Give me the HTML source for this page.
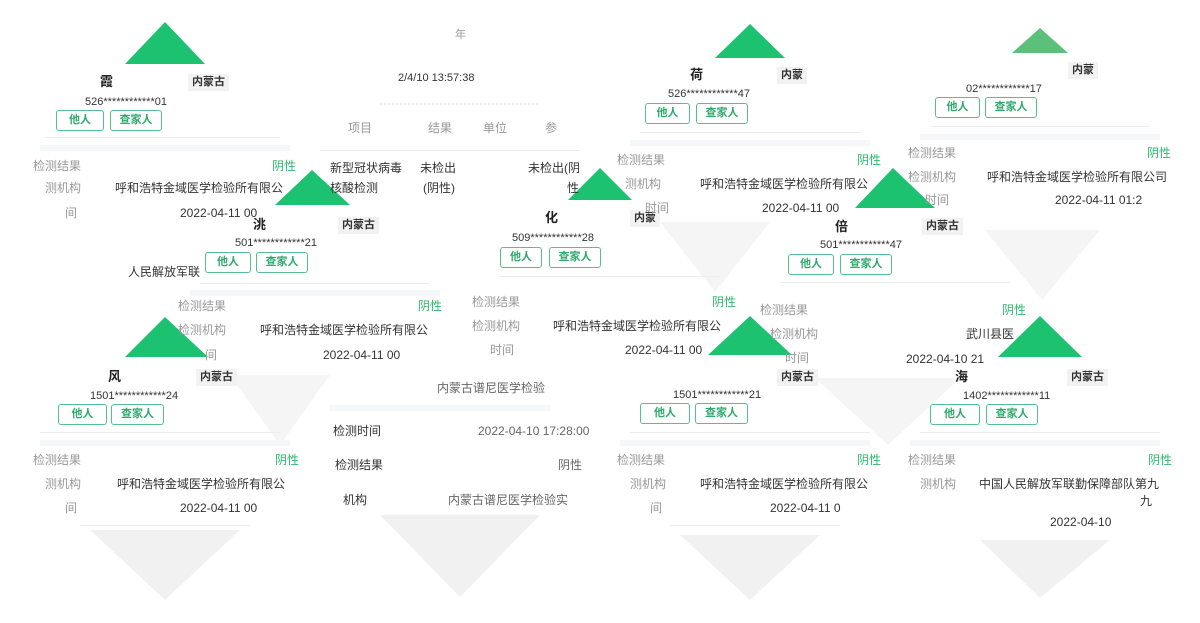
<!DOCTYPE html>
<html><head><meta charset="utf-8"><style>
body{margin:0;width:1200px;height:623px;background:#fff;position:relative;overflow:hidden;font-family:"Liberation Sans","Noto Sans CJK SC",sans-serif;}
.t{position:absolute;font-size:12px;color:#333;white-space:nowrap;line-height:16px;}
.l{color:#999;}
.g{color:#2fb86f;}
.b{font-weight:bold;font-size:13px;color:#222;}
.s{font-size:11px;color:#333;}
.bd{position:absolute;background:#f2f2f2;font-size:11px;font-weight:bold;color:#333;padding:0 4px;line-height:17px;height:17px;}
.btn{position:absolute;border:1px solid #55c08e;border-radius:3px;color:#2fa96c;font-size:11px;font-weight:bold;text-align:center;height:19px;line-height:19px;}
.ln{position:absolute;height:1px;background:#ededed;}
.band{position:absolute;height:6px;background:#f6f7f8;}
svg{position:absolute;left:0;top:0;}
</style></head><body>
<svg width="1200" height="623">
<g fill="#f1f1f1">
<polygon points="90,530 240,530 165,600"/>
<polygon points="380,515 540,515 460,597"/>
<polygon points="680,535 820,535 750,600"/>
<polygon points="980,540 1110,540 1040,598"/>
<polygon points="230,375 330,375 280,445" fill="#f5f5f5"/>
<polygon points="660,222 770,222 715,292" fill="#f5f5f5"/>
<polygon points="815,378 960,378 888,445" fill="#f5f5f5"/>
<polygon points="985,230 1100,230 1042,300" fill="#f5f5f5"/>
</g>
<g fill="#1dc271">
<polygon points="165,22 125,64 205,64"/>
<polygon points="312,170 275,205 350,205"/>
<polygon points="600,168 568,200 632,200"/>
<polygon points="750,24 715,58 785,58"/>
<polygon points="1040,28 1012,53 1068,53" fill="#5cbf7a"/>
<polygon points="893,168 855,208 935,208"/>
<polygon points="165,317 125,357 208,357"/>
<polygon points="750,316 708,355 792,355"/>
<polygon points="1040,316 998,357 1082,357"/>
</g>
<line x1="380" y1="104" x2="540" y2="104" stroke="#ddd" stroke-dasharray="2,2"/>
</svg>

<!-- lines / bands -->
<div class="ln" style="left:45px;top:137px;width:235px"></div>
<div class="band" style="left:40px;top:145px;width:250px"></div>
<div class="ln" style="left:320px;top:150px;width:260px"></div>
<div class="ln" style="left:640px;top:132px;width:220px"></div>
<div class="band" style="left:630px;top:140px;width:240px"></div>
<div class="ln" style="left:930px;top:126px;width:220px"></div>
<div class="band" style="left:920px;top:134px;width:240px"></div>
<div class="ln" style="left:200px;top:283px;width:230px"></div>
<div class="band" style="left:190px;top:290px;width:250px"></div>
<div class="ln" style="left:500px;top:276px;width:220px"></div>
<div class="ln" style="left:780px;top:282px;width:230px"></div>
<div class="ln" style="left:40px;top:432px;width:240px"></div>
<div class="band" style="left:40px;top:440px;width:250px"></div>
<div class="band" style="left:330px;top:405px;width:220px"></div>
<div class="ln" style="left:630px;top:432px;width:240px"></div>
<div class="band" style="left:620px;top:440px;width:250px"></div>
<div class="ln" style="left:920px;top:432px;width:240px"></div>
<div class="band" style="left:910px;top:440px;width:250px"></div>
<div class="ln" style="left:80px;top:525px;width:170px"></div>
<div class="ln" style="left:670px;top:525px;width:170px"></div>

<!-- Card A -->
<div class="t b" style="left:100px;top:74px">霞</div>
<div class="bd" style="left:188px;top:74px">内蒙古</div>
<div class="t s" style="left:85px;top:94px">526************01</div>
<div class="btn" style="left:56px;top:110px;width:46px">他人</div>
<div class="btn" style="left:110px;top:110px;width:50px">查家人</div>
<div class="t l" style="left:33px;top:158px">检测结果</div>
<div class="t g" style="left:272px;top:158px">阴性</div>
<div class="t l" style="left:45px;top:180px">测机构</div>
<div class="t" style="left:115px;top:180px">呼和浩特金域医学检验所有限公</div>
<div class="t l" style="left:65px;top:205px">间</div>
<div class="t" style="left:180px;top:205px">2022-04-11 00</div>

<!-- Middle top -->
<div class="t l" style="left:455px;top:27px;font-size:11px">年</div>
<div class="t s" style="left:398px;top:70px">2/4/10 13:57:38</div>
<div class="t l" style="left:348px;top:120px">项目</div>
<div class="t l" style="left:428px;top:120px">结果</div>
<div class="t l" style="left:483px;top:120px">单位</div>
<div class="t l" style="left:545px;top:120px">参</div>
<div class="t" style="left:330px;top:160px">新型冠状病毒</div>
<div class="t" style="left:420px;top:160px">未检出</div>
<div class="t" style="left:528px;top:160px">未检出(阴</div>
<div class="t" style="left:330px;top:180px">核酸检测</div>
<div class="t" style="left:423px;top:180px">(阴性)</div>
<div class="t" style="left:567px;top:180px">性</div>

<!-- Card B -->
<div class="t b" style="left:253px;top:217px">洮</div>
<div class="bd" style="left:338px;top:217px">内蒙古</div>
<div class="t s" style="left:235px;top:235px">501************21</div>
<div class="btn" style="left:205px;top:252px;width:44px">他人</div>
<div class="btn" style="left:256px;top:252px;width:50px">查家人</div>
<div class="t" style="left:128px;top:264px">人民解放军联</div>
<div class="t l" style="left:178px;top:298px">检测结果</div>
<div class="t g" style="left:418px;top:298px">阴性</div>
<div class="t l" style="left:178px;top:322px">检测机构</div>
<div class="t" style="left:260px;top:322px">呼和浩特金域医学检验所有限公</div>
<div class="t l" style="left:205px;top:347px">间</div>
<div class="t" style="left:323px;top:347px">2022-04-11 00</div>

<!-- Card C -->
<div class="t b" style="left:545px;top:210px">化</div>
<div class="bd" style="left:630px;top:210px">内蒙</div>
<div class="t s" style="left:512px;top:230px">509************28</div>
<div class="btn" style="left:500px;top:247px;width:40px">他人</div>
<div class="btn" style="left:549px;top:247px;width:50px">查家人</div>
<div class="t l" style="left:472px;top:294px">检测结果</div>
<div class="t g" style="left:712px;top:294px">阴性</div>
<div class="t l" style="left:472px;top:318px">检测机构</div>
<div class="t" style="left:553px;top:318px">呼和浩特金域医学检验所有限公</div>
<div class="t l" style="left:490px;top:342px">时间</div>
<div class="t" style="left:625px;top:342px">2022-04-11 00</div>

<!-- Card D -->
<div class="t b" style="left:690px;top:67px">荷</div>
<div class="bd" style="left:777px;top:67px">内蒙</div>
<div class="t s" style="left:668px;top:86px">526************47</div>
<div class="btn" style="left:645px;top:103px;width:43px">他人</div>
<div class="btn" style="left:696px;top:103px;width:50px">查家人</div>
<div class="t l" style="left:617px;top:152px">检测结果</div>
<div class="t g" style="left:857px;top:152px">阴性</div>
<div class="t l" style="left:625px;top:176px">测机构</div>
<div class="t" style="left:700px;top:176px">呼和浩特金域医学检验所有限公</div>
<div class="t l" style="left:645px;top:200px">时间</div>
<div class="t" style="left:762px;top:200px">2022-04-11 00</div>

<!-- Card E -->
<div class="bd" style="left:1068px;top:62px">内蒙</div>
<div class="t s" style="left:966px;top:81px">02************17</div>
<div class="btn" style="left:935px;top:97px;width:43px">他人</div>
<div class="btn" style="left:985px;top:97px;width:50px">查家人</div>
<div class="t l" style="left:908px;top:145px">检测结果</div>
<div class="t g" style="left:1147px;top:145px">阴性</div>
<div class="t l" style="left:908px;top:169px">检测机构</div>
<div class="t" style="left:987px;top:169px">呼和浩特金域医学检验所有限公司</div>
<div class="t l" style="left:925px;top:192px">时间</div>
<div class="t" style="left:1055px;top:192px">2022-04-11 01:2</div>

<!-- Card F -->
<div class="t b" style="left:835px;top:219px">倍</div>
<div class="bd" style="left:922px;top:218px">内蒙古</div>
<div class="t s" style="left:820px;top:237px">501************47</div>
<div class="btn" style="left:788px;top:254px;width:44px">他人</div>
<div class="btn" style="left:840px;top:254px;width:50px">查家人</div>
<div class="t l" style="left:760px;top:302px">检测结果</div>
<div class="t g" style="left:1002px;top:302px">阴性</div>
<div class="t l" style="left:770px;top:326px">检测机构</div>
<div class="t" style="left:966px;top:326px">武川县医</div>
<div class="t l" style="left:785px;top:350px">时间</div>
<div class="t" style="left:906px;top:351px">2022-04-10 21</div>

<!-- Card G -->
<div class="t b" style="left:108px;top:369px">风</div>
<div class="bd" style="left:196px;top:369px">内蒙古</div>
<div class="t s" style="left:90px;top:388px">1501************24</div>
<div class="btn" style="left:58px;top:404px;width:47px">他人</div>
<div class="btn" style="left:111px;top:404px;width:51px">查家人</div>
<div class="t l" style="left:33px;top:452px">检测结果</div>
<div class="t g" style="left:275px;top:452px">阴性</div>
<div class="t l" style="left:45px;top:476px">测机构</div>
<div class="t" style="left:117px;top:476px">呼和浩特金域医学检验所有限公</div>
<div class="t l" style="left:65px;top:500px">间</div>
<div class="t" style="left:180px;top:500px">2022-04-11 00</div>

<!-- Middle lower -->
<div class="t l" style="left:437px;top:380px;color:#666">内蒙古谱尼医学检验</div>
<div class="t" style="left:333px;top:423px">检测时间</div>
<div class="t l" style="left:478px;top:423px;color:#666">2022-04-10 17:28:00</div>
<div class="t" style="left:335px;top:457px">检测结果</div>
<div class="t l" style="left:558px;top:457px;color:#666">阴性</div>
<div class="t" style="left:343px;top:492px">机构</div>
<div class="t l" style="left:448px;top:492px;color:#666">内蒙古谱尼医学检验实</div>

<!-- Card H -->
<div class="bd" style="left:777px;top:369px">内蒙古</div>
<div class="t s" style="left:673px;top:387px">1501************21</div>
<div class="btn" style="left:640px;top:403px;width:48px">他人</div>
<div class="btn" style="left:695px;top:403px;width:51px">查家人</div>
<div class="t l" style="left:617px;top:452px">检测结果</div>
<div class="t g" style="left:857px;top:452px">阴性</div>
<div class="t l" style="left:630px;top:476px">测机构</div>
<div class="t" style="left:700px;top:476px">呼和浩特金域医学检验所有限公</div>
<div class="t l" style="left:650px;top:500px">间</div>
<div class="t" style="left:770px;top:500px">2022-04-11 0</div>

<!-- Card I -->
<div class="t b" style="left:955px;top:369px">海</div>
<div class="bd" style="left:1067px;top:369px">内蒙古</div>
<div class="t s" style="left:963px;top:388px">1402************11</div>
<div class="btn" style="left:930px;top:404px;width:48px">他人</div>
<div class="btn" style="left:986px;top:404px;width:50px">查家人</div>
<div class="t l" style="left:908px;top:452px">检测结果</div>
<div class="t g" style="left:1148px;top:452px">阴性</div>
<div class="t l" style="left:920px;top:476px">测机构</div>
<div class="t" style="left:979px;top:476px">中国人民解放军联勤保障部队第九</div>
<div class="t" style="left:1140px;top:493px">九</div>
<div class="t" style="left:1050px;top:514px">2022-04-10</div>
</body></html>
